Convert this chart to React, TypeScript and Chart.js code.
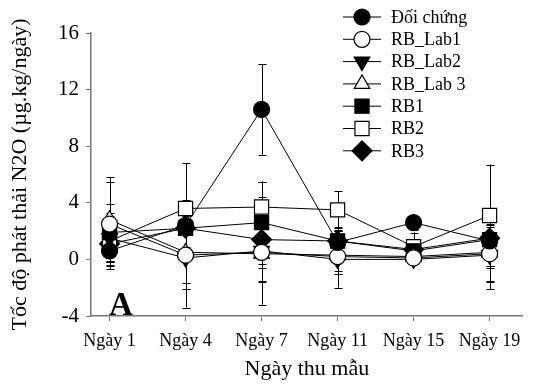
import React, { useEffect, useRef } from 'react';
import { Chart, registerables } from 'chart.js';
import { drawPoint } from 'chart.js/helpers';

Chart.register(...registerables);

const categories = ['Ngày 1', 'Ngày 4', 'Ngày 7', 'Ngày 11', 'Ngày 15', 'Ngày 19'];
const seriesNames = ['Đối chứng', 'RB_Lab1', 'RB_Lab2', 'RB_Lab 3', 'RB1', 'RB2', 'RB3'];

const doiChung = [0.6, 2.4, 10.6, 1.2, 2.6, 1.3];
const rbLab1 = [2.5, 0.3, 0.5, 0.2, 0.1, 0.4];
const rbLab2 = [1.5, 0.1, 0.6, 0.0, 0.0, 0.3];
const rbLab3 = [2.8, 0.5, 0.4, 0.3, 0.2, 0.5];
const rb1 = [1.9, 2.2, 2.6, 1.3, 0.6, 1.4];
const rb2 = [1.3, 3.6, 3.7, 3.5, 0.9, 3.1];
const rb3 = [1.1, 2.2, 1.4, 1.3, 0.7, 1.5];

const errDoiChung = [0.8, 1.5, 3.2, 0.8, 0.5, 1.0];
const errRbLab1 = [3.0, 2.0, 2.0, 1.0, 0.3, 2.0];
const errRbLab2 = [1.6, 3.5, 3.8, 2.0, 0.3, 2.4];
const errRbLab3 = [3.0, 2.6, 2.0, 1.3, 0.3, 2.0];
const errRb1 = [2.0, 2.0, 2.9, 0.8, 0.5, 2.0];
const errRb2 = [2.0, 3.2, 1.8, 1.3, 1.0, 3.6];
const errRb3 = [1.5, 1.8, 2.0, 1.0, 0.5, 2.0];

const yTicks = [-4, 0, 4, 8, 12, 16];

const FONT = '"Liberation Serif", "Times New Roman", serif';

const errorBarPlugin = {
  id: 'errorBars',
  beforeDatasetsDraw(chart: any) {
    const ctx = chart.ctx;
    const xs = chart.scales.x;
    const ys = chart.scales.y;
    ctx.save();
    ctx.strokeStyle = '#000';
    ctx.lineWidth = 1;
    chart.data.datasets.forEach((ds: any) => {
      ds.data.forEach((p: any, i: number) => {
        const e = ds.errors[i];
        const x = Math.round(xs.getPixelForValue(p.x)) + 0.5;
        const yTop = ys.getPixelForValue(p.y + e);
        const yBot = ys.getPixelForValue(p.y - e);
        ctx.beginPath();
        ctx.moveTo(x, yTop);
        ctx.lineTo(x, yBot);
        ctx.moveTo(x - 4, Math.round(yTop) + 0.5);
        ctx.lineTo(x + 4, Math.round(yTop) + 0.5);
        ctx.moveTo(x - 4, Math.round(yBot) + 0.5);
        ctx.lineTo(x + 4, Math.round(yBot) + 0.5);
        ctx.stroke();
      });
    });
    ctx.restore();
  },
};

const legendPlugin = {
  id: 'customLegend',
  afterDraw(chart: any) {
    const ctx = chart.ctx;
    ctx.save();
    const x0 = 343;
    const x1 = 381;
    const xm = 362;
    const yStart = 17;
    const step = 22.3;
    chart.data.datasets.forEach((ds: any, i: number) => {
      const y = yStart + i * step;
      ctx.strokeStyle = '#000';
      ctx.lineWidth = 1;
      ctx.beginPath();
      ctx.moveTo(x0, y);
      ctx.lineTo(x1, y);
      ctx.stroke();
      ctx.fillStyle = ds.pointBackgroundColor;
      ctx.strokeStyle = '#000';
      ctx.lineWidth = ds.pointBorderWidth;
      drawPoint(ctx, {
        pointStyle: ds.pointStyle,
        rotation: ds.pointRotation || 0,
        radius: ds.pointRadius,
        borderWidth: ds.pointBorderWidth,
      } as any, xm, y);
      ctx.fillStyle = '#000';
      ctx.font = `18px ${FONT}`;
      ctx.textBaseline = 'middle';
      ctx.textAlign = 'left';
      ctx.fillText(ds.label, 391, y + 1);
    });
    // panel letter
    ctx.font = `bold 33px ${FONT}`;
    ctx.textBaseline = 'alphabetic';
    ctx.textAlign = 'left';
    ctx.fillText('A', chart.chartArea.left + 18, chart.chartArea.bottom - 1);
    ctx.restore();
  },
};

function makeDataset(label: string, values: number[], errors: number[], style: string, fill: boolean, radius: number, rotation = 0) {
  return {
    label,
    data: values.map((v, i) => ({ x: i, y: v })),
    errors,
    borderColor: '#000',
    borderWidth: 1,
    pointStyle: style,
    pointRotation: rotation,
    pointRadius: radius,
    pointBackgroundColor: fill ? '#000' : '#fff',
    pointBorderColor: '#000',
    pointBorderWidth: 1.2,
    showLine: true,
    tension: 0,
  } as any;
}

export default function App() {
  const ref = useRef<HTMLCanvasElement>(null);
  useEffect(() => {
    if (!ref.current) return;
    const datasets = [
      makeDataset(seriesNames[0], doiChung, errDoiChung, 'circle', true, 8),
      makeDataset(seriesNames[1], rbLab1, errRbLab1, 'circle', false, 8),
      makeDataset(seriesNames[2], rbLab2, errRbLab2, 'triangle', true, 9, 180),
      makeDataset(seriesNames[3], rbLab3, errRbLab3, 'triangle', false, 9),
      makeDataset(seriesNames[4], rb1, errRb1, 'rect', true, 10),
      makeDataset(seriesNames[5], rb2, errRb2, 'rect', false, 10),
      makeDataset(seriesNames[6], rb3, errRb3, 'rectRot', true, 10),
    ];
    const chart = new Chart(ref.current, {
      type: 'scatter',
      data: { datasets },
      options: {
        animation: false,
        responsive: false,
        maintainAspectRatio: false,
        layout: { padding: { top: 33, right: 1, left: 7, bottom: 0 } },
        plugins: { legend: { display: false }, tooltip: { enabled: false } },
        scales: {
          x: {
            type: 'linear',
            min: -0.244,
            max: 5.437,
            afterBuildTicks: (axis: any) => {
              axis.ticks = categories.map((_, i) => ({ value: i }));
            },
            afterFit: (scale: any) => {
              scale.height = 70;
            },
            grid: { drawOnChartArea: false, drawTicks: true, tickLength: 5, color: '#777' },
            border: { color: '#777', width: 1.5 },
            ticks: {
              color: '#000',
              font: { family: FONT, size: 18 },
              padding: 9,
              maxRotation: 0,
              autoSkip: false,
              callback: (v: any) => categories[v],
            },
            title: {
              display: true,
              text: 'Ngày thu mẫu',
              color: '#000',
              font: { family: FONT, size: 22 },
              padding: { top: 8 },
            },
          },
          y: {
            type: 'linear',
            min: -4,
            max: 16,
            afterBuildTicks: (axis: any) => {
              axis.ticks = yTicks.map((v) => ({ value: v }));
            },
            afterFit: (scale: any) => {
              scale.width = 84;
            },
            grid: { drawOnChartArea: false, drawTicks: true, tickLength: 5, color: '#777' },
            border: { color: '#777', width: 1.5 },
            ticks: {
              color: '#000',
              font: { family: FONT, size: 21 },
              padding: 7,
            },
            title: {
              display: true,
              text: 'Tốc độ phát thải N2O (µg.kg/ngày)',
              color: '#000',
              font: { family: FONT, size: 22 },
              padding: { top: 0, bottom: 2 },
            },
          },
        },
      } as any,
      plugins: [errorBarPlugin, legendPlugin],
    });
    return () => chart.destroy();
  }, []);
  return (
    <div style={{ position: 'absolute', left: 0, top: 0, width: 534, height: 386, background: '#fff' }}>
      <canvas ref={ref} width={534} height={386} style={{ width: 534, height: 386 }} />
    </div>
  );
}
